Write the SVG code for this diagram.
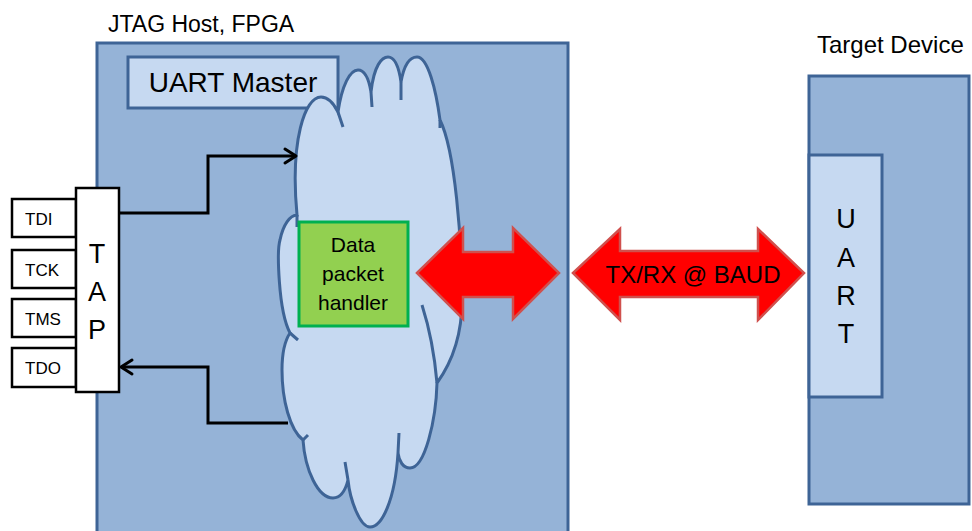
<svg xmlns="http://www.w3.org/2000/svg" width="972" height="531" viewBox="0 0 972 531">
  <style>
    .t { font-family: "Liberation Sans", Arial, sans-serif; fill: #000; }
    .blk { fill: #95B3D7; stroke: #3E6496; stroke-width: 3; }
    .lt { fill: #C6D9F1; stroke: #3E6496; stroke-width: 3; }
    .pin { fill: #fff; stroke: #000; stroke-width: 2.5; }
    .wire { fill: none; stroke: #000; stroke-width: 3; }
    .head { fill: none; stroke: #000; stroke-width: 3; stroke-linecap: round; stroke-linejoin: round; }
    .cloud { fill: #C6D9F1; stroke: #3E6496; stroke-width: 3; }
    .inner { fill: none; stroke: #3E6496; stroke-width: 3; }
    .big { fill: #FF0000; stroke: #D0504D; stroke-width: 2.5; stroke-linejoin: miter; }
  </style>
  <rect width="972" height="531" fill="#fff"/>

  <!-- JTAG host / FPGA -->
  <g id="fpga">
    <rect class="blk" x="97" y="43" width="471" height="500"/>
    <text class="t" x="108" y="32" font-size="23">JTAG Host, FPGA</text>
  </g>

  <g id="uart-master">
    <rect class="lt" x="128" y="57" width="210" height="51"/>
    <text class="t" x="233" y="92" font-size="28" text-anchor="middle">UART Master</text>
  </g>

  <!-- cloud, drawn over the UART Master box corner -->
  <g id="cloud">
    <path class="cloud" d="M297,215
      C290,140 305,97 321,97 C329,97 334,104 338,112
      C342,85 350,70 358,70 C365,70 369,80 371,92
      C374,65 382,57 388,57 C395,57 399,68 401,82
      C404,65 410,57 417,57 C428,57 436,90 440,120
      C455,150 462,240 462,300 C462,340 450,365 437,383
      C436,420 425,468 410,468 C403,468 399,461 398,453
      C395,500 382,527 370,527 C360,527 350,500 348,480
      C345,492 340,498 333,498 C318,498 305,470 303,440
      C290,430 282,400 282,370 C282,355 284,342 290,333
      C278,310 277,250 280,240 C283,225 290,215 297,215 Z"/>
    <path class="inner" d="M338,112 L343,127 M371,92 L372,107 M401,82 L401,100 M440,120 L440,128
      M422,305 C430,330 435,360 437,383 M398,453 L399,433 M348,480 L345,462
      M303,440 L308,435 M290,333 L298,340 M297,215 L297,227"/>
  </g>

  <g id="packet-handler">
    <rect x="299" y="222" width="109" height="104" fill="#92D050" stroke="#00B050" stroke-width="3"/>
    <text class="t" x="353" y="252" font-size="21" text-anchor="middle">Data</text>
    <text class="t" x="353" y="281" font-size="21" text-anchor="middle">packet</text>
    <text class="t" x="353" y="310" font-size="21" text-anchor="middle">handler</text>
  </g>

  <!-- JTAG pins and TAP -->
  <g id="tdi"><rect class="pin" x="12" y="199" width="64" height="38"/><text class="t" x="25" y="225" font-size="17">TDI</text></g>
  <g id="tck"><rect class="pin" x="12" y="250" width="64" height="38"/><text class="t" x="25" y="276" font-size="17">TCK</text></g>
  <g id="tms"><rect class="pin" x="12" y="299" width="64" height="38"/><text class="t" x="25" y="325" font-size="17">TMS</text></g>
  <g id="tdo"><rect class="pin" x="12" y="348" width="64" height="39"/><text class="t" x="25" y="374" font-size="17">TDO</text></g>
  <g id="tap">
    <rect class="pin" x="76" y="188" width="43" height="204"/>
    <text class="t" x="97" y="263" font-size="27" text-anchor="middle">T</text>
    <text class="t" x="97" y="301" font-size="27" text-anchor="middle">A</text>
    <text class="t" x="97" y="339" font-size="27" text-anchor="middle">P</text>
  </g>

  <!-- Target device -->
  <g id="target">
    <rect class="blk" x="809" y="76" width="160" height="428"/>
    <text class="t" x="817" y="53" font-size="24">Target Device</text>
  </g>
  <g id="target-uart">
    <rect class="lt" x="809" y="155" width="73" height="242"/>
    <text class="t" x="846" y="228" font-size="27" text-anchor="middle">U</text>
    <text class="t" x="846" y="267" font-size="27" text-anchor="middle">A</text>
    <text class="t" x="846" y="305" font-size="27" text-anchor="middle">R</text>
    <text class="t" x="846" y="343" font-size="27" text-anchor="middle">T</text>
  </g>

  <!-- connectors -->
  <g id="connectors">
    <path class="wire" d="M119,213 H208 V156 H295"/>
    <path class="head" d="M285,149 L296,156 L285,163"/>
    <path class="wire" d="M288,423 H208 V367 H122"/>
    <path class="head" d="M132,360 L121,367 L132,374"/>
    <path class="big" d="M417,273 L463,228 L463,252 L513,252 L513,228 L559,273 L513,319 L513,297 L463,297 L463,319 Z"/>
    <path class="big" d="M573,273 L620,229 L620,251 L758,251 L758,229 L804,273 L758,320 L758,297 L620,297 L620,320 Z"/>
    <text class="t" x="693" y="283" font-size="24" text-anchor="middle">TX/RX @ BAUD</text>
  </g>
</svg>
